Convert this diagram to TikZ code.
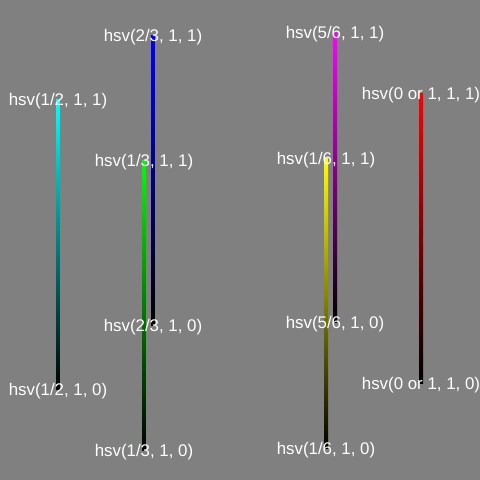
\documentclass[tikz,border=0pt]{standalone}
\usepackage{fontspec}
\setmainfont{Liberation Sans}
\definecolor{bggray}{HTML}{808080}
\definecolor{hsvred}{HTML}{FF0000}
\definecolor{hsvyellow}{HTML}{FFFF00}
\definecolor{hsvgreen}{HTML}{00FF00}
\definecolor{hsvcyan}{HTML}{00FFFF}
\definecolor{hsvblue}{HTML}{0000FF}
\definecolor{hsvmagenta}{HTML}{FF00FF}
\tikzset{
  hsvlabel/.style={text=white,font=\fontsize{12}{14}\selectfont,inner sep=0pt,yshift=-1.4pt},
}
\begin{document}
\begin{tikzpicture}[x=0.025cm,y=-0.025cm]

	%background
	\fill[bggray] (0,0) rectangle (480,480);
	\useasboundingbox (0,0) rectangle (480,480);

	%ends
	\coordinate (cyantop) at (58,99);
	\coordinate (cyanbot) at (58,389);
	\coordinate (bluetop) at (153,35);
	\coordinate (bluebot) at (153,325);
	\coordinate (greentop) at (144,160);
	\coordinate (greenbot) at (144,450);
	\coordinate (magentatop) at (335,32);
	\coordinate (magentabot) at (335,322);
	\coordinate (yellowtop) at (326,158);
	\coordinate (yellowbot) at (326,448);
	\coordinate (redtop) at (421,93);
	\coordinate (redbot) at (421,383);

	%bars
	\shade[top color=hsvcyan,bottom color=black] ([xshift=-1.42pt]cyantop) rectangle ([xshift=1.42pt]cyanbot);
	\shade[top color=hsvblue,bottom color=black] ([xshift=-1.42pt]bluetop) rectangle ([xshift=1.42pt]bluebot);
	\shade[top color=hsvgreen,bottom color=black] ([xshift=-1.42pt]greentop) rectangle ([xshift=1.42pt]greenbot);
	\shade[top color=hsvmagenta,bottom color=black] ([xshift=-1.42pt]magentatop) rectangle ([xshift=1.42pt]magentabot);
	\shade[top color=hsvyellow,bottom color=black] ([xshift=-1.42pt]yellowtop) rectangle ([xshift=1.42pt]yellowbot);
	\shade[top color=hsvred,bottom color=black] ([xshift=-1.42pt]redtop) rectangle ([xshift=1.42pt]redbot);

	%labels
	\node[hsvlabel] (cyanhi) at (cyantop) {hsv(1/2, 1, 1)};
	\node[hsvlabel] (cyanlo) at (cyanbot) {hsv(1/2, 1, 0)};
	\node[hsvlabel] (bluehi) at (bluetop) {hsv(2/3, 1, 1)};
	\node[hsvlabel] (bluelo) at (bluebot) {hsv(2/3, 1, 0)};
	\node[hsvlabel] (greenhi) at (greentop) {hsv(1/3, 1, 1)};
	\node[hsvlabel] (greenlo) at (greenbot) {hsv(1/3, 1, 0)};
	\node[hsvlabel] (magentahi) at (magentatop) {hsv(5/6, 1, 1)};
	\node[hsvlabel] (magentalo) at (magentabot) {hsv(5/6, 1, 0)};
	\node[hsvlabel] (yellowhi) at (yellowtop) {hsv(1/6, 1, 1)};
	\node[hsvlabel] (yellowlo) at (yellowbot) {hsv(1/6, 1, 0)};
	\node[hsvlabel] (redhi) at (redtop) {hsv(0 or 1, 1, 1)};
	\node[hsvlabel] (redlo) at (redbot) {hsv(0 or 1, 1, 0)};

\end{tikzpicture}
\end{document}
